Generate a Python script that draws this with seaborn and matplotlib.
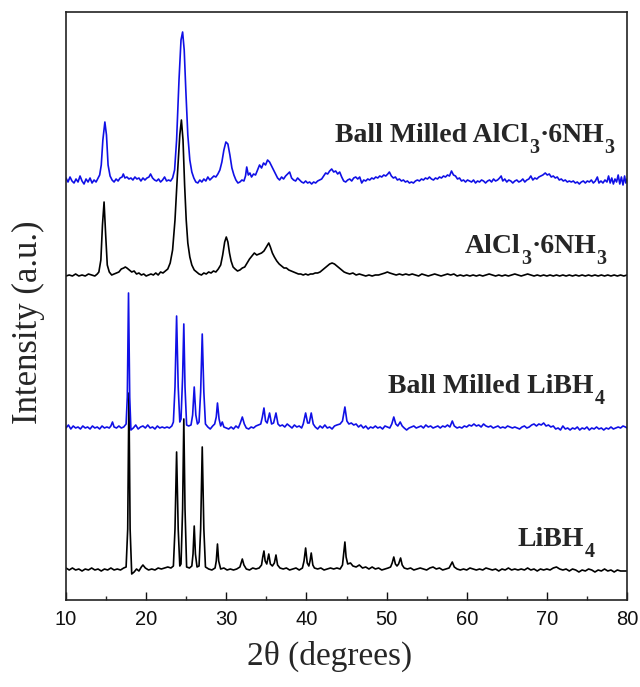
import numpy as np
import pandas as pd
import matplotlib
matplotlib.use("Agg")
import matplotlib.pyplot as plt
from matplotlib.ticker import MultipleLocator
from matplotlib.transforms import IdentityTransform
import seaborn as sns

# Diffraction patterns: (2theta in degrees, intensity above the trace's own baseline)
libh4 = [
    (10.0, 1), (10.4, -1), (10.8, 1), (11.2, -1), (11.6, 0), (12.0, -2), (12.4, 0), (12.8, -1), (13.2, 1),
    (13.6, -1), (14.0, 0), (14.4, -2), (14.8, 0), (15.2, -1), (15.6, 1), (16.0, -1), (16.4, 0), (16.8, -1),
    (17.2, 1), (17.5, 2), (17.7, 40), (17.85, 176), (18.0, 40), (18.2, -5), (18.5, -3), (18.8, 0), (19.1, -2),
    (19.4, 2), (19.6, 4), (19.9, 1), (20.3, -1), (20.7, 0), (21.1, -1), (21.5, 1), (21.9, 0), (22.3, 1),
    (22.7, 2), (23.1, 1), (23.4, 3), (23.6, 40), (23.8, 117), (24.0, 40), (24.2, 3), (24.35, 5), (24.55, 60),
    (24.7, 150), (24.85, 60), (25.05, 2), (25.4, 1), (25.7, 3), (25.85, 15), (26.0, 43), (26.15, 15),
    (26.35, 2), (26.6, 3), (26.8, 40), (27.0, 122), (27.2, 40), (27.4, 2), (27.8, 0), (28.2, -1), (28.6, 1),
    (28.75, 8), (28.9, 25), (29.05, 8), (29.3, 0), (29.7, 1), (30.1, -1), (30.5, 0), (30.9, -1), (31.3, 0),
    (31.7, 2), (31.85, 6), (32.0, 10), (32.2, 4), (32.5, 0), (32.9, -1), (33.3, 1), (33.7, 0), (34.1, 1),
    (34.4, 4), (34.55, 12), (34.7, 18), (34.85, 8), (35.05, 5), (35.3, 15), (35.5, 5), (35.75, 3), (36.0, 6),
    (36.2, 14), (36.4, 4), (36.7, 1), (37.1, 0), (37.5, 1), (37.9, -1), (38.3, 0), (38.7, 1), (39.1, -1),
    (39.5, 1), (39.7, 8), (39.9, 21), (40.1, 6), (40.3, 3), (40.45, 8), (40.6, 16), (40.8, 4), (41.0, 1),
    (41.4, 0), (41.8, 1), (42.2, -1), (42.6, 0), (43.0, 1), (43.4, 0), (43.8, 1), (44.2, 0), (44.5, 4),
    (44.65, 15), (44.8, 27), (44.95, 12), (45.15, 5), (45.5, 6), (45.8, 3), (46.2, 2), (46.6, 4), (47.0, 1),
    (47.4, 2), (47.8, 0), (48.2, 2), (48.6, 0), (49.0, 1), (49.4, -1), (49.8, 0), (50.2, 1), (50.5, 2),
    (50.7, 6), (50.9, 12), (51.1, 5), (51.3, 3), (51.5, 5), (51.75, 11), (51.95, 4), (52.2, 1), (52.6, 0),
    (53.0, 1), (53.4, -1), (53.8, 0), (54.2, 1), (54.6, 0), (55.0, -1), (55.4, 1), (55.8, 2), (56.2, 0),
    (56.6, 1), (57.0, -1), (57.4, 0), (57.8, 1), (58.0, 4), (58.2, 7), (58.45, 2), (58.8, 0), (59.2, -1),
    (59.6, 0), (60.0, -1), (60.4, 1), (60.8, 0), (61.2, -1), (61.6, 0), (62.0, -1), (62.4, 1), (62.8, 0),
    (63.2, -1), (63.6, 0), (64.0, -2), (64.4, 0), (64.8, -1), (65.2, 1), (65.6, -1), (66.0, 0), (66.4, -1),
    (66.8, 0), (67.2, -1), (67.6, 1), (68.0, -1), (68.4, 0), (68.8, -2), (69.2, 0), (69.6, -1), (70.0, 0),
    (70.4, -1), (70.8, 1), (71.2, 2), (71.6, 0), (72.0, -1), (72.4, 0), (72.8, -2), (73.2, 0), (73.6, -1),
    (74.0, -3), (74.4, -1), (74.8, -2), (75.2, 0), (75.6, -1), (76.0, -3), (76.4, -1), (76.8, -2), (77.2, 0),
    (77.6, -2), (78.0, -1), (78.4, -3), (78.8, -1), (79.2, -2), (79.6, -2), (80.0, -2),
]

bm_libh4 = [
    (10.0, -1), (10.3, 2), (10.6, -2), (10.9, 1), (11.2, -1), (11.5, 0), (11.8, -2), (12.1, 1), (12.4, -1),
    (12.7, 0), (13.0, -2), (13.3, 1), (13.6, -1), (13.9, 0), (14.2, -2), (14.5, 1), (14.8, -1), (15.1, 0),
    (15.4, -1), (15.6, 1), (15.8, 5), (16.0, 0), (16.3, -1), (16.6, 1), (16.9, -1), (17.2, 0), (17.5, 3),
    (17.65, 30), (17.8, 134), (17.95, 30), (18.1, -3), (18.4, -1), (18.7, 2), (19.0, -2), (19.3, 0), (19.6, 1),
    (19.9, -1), (20.2, 2), (20.5, -1), (20.8, 0), (21.1, -2), (21.4, 1), (21.7, -1), (22.0, 0), (22.3, -1),
    (22.6, 0), (22.9, -1), (23.2, 1), (23.4, 5), (23.6, 40), (23.8, 111), (24.0, 40), (24.2, 5), (24.35, 8),
    (24.55, 50), (24.7, 103), (24.85, 40), (25.05, 2), (25.3, 1), (25.6, 2), (25.8, 12), (26.0, 40),
    (26.2, 12), (26.4, 3), (26.6, 5), (26.8, 35), (27.0, 93), (27.2, 35), (27.4, 3), (27.7, 0), (28.0, -2),
    (28.3, 1), (28.55, 3), (28.75, 10), (28.9, 24), (29.1, 8), (29.3, 1), (29.5, 5), (29.7, 0), (30.0, -1),
    (30.3, -2), (30.6, 0), (30.9, -2), (31.2, 1), (31.5, -1), (31.75, 4), (32.0, 10), (32.25, 3), (32.5, -1),
    (32.8, -2), (33.1, 0), (33.4, -1), (33.7, 1), (34.0, 2), (34.3, 3), (34.5, 10), (34.7, 19), (34.9, 6),
    (35.1, 4), (35.4, 14), (35.65, 3), (35.9, 4), (36.2, 14), (36.45, 3), (36.7, 1), (37.0, 2), (37.3, 0),
    (37.6, 3), (37.9, 1), (38.2, -1), (38.5, 2), (38.8, 0), (39.1, 1), (39.4, -1), (39.6, 3), (39.9, 14),
    (40.15, 4), (40.35, 4), (40.6, 14), (40.85, 3), (41.1, 0), (41.4, -2), (41.7, 1), (42.0, -1), (42.3, 2),
    (42.6, -1), (42.9, 0), (43.2, -2), (43.5, 1), (43.8, 2), (44.2, 3), (44.5, 6), (44.8, 20), (45.05, 6),
    (45.3, 3), (45.6, 4), (45.9, 2), (46.2, 3), (46.5, 0), (46.8, 2), (47.1, -1), (47.4, 1), (47.7, -2),
    (48.0, 0), (48.3, -1), (48.6, 1), (48.9, -1), (49.2, 0), (49.5, -2), (49.8, 1), (50.1, 0), (50.4, -1),
    (50.65, 3), (50.9, 10), (51.15, 3), (51.4, 1), (51.7, 5), (51.95, 1), (52.2, -1), (52.5, -3), (52.8, -1),
    (53.1, 0), (53.4, 1), (53.7, -1), (54.0, 0), (54.3, 1), (54.6, -1), (54.9, 2), (55.2, 0), (55.5, 1),
    (55.8, -1), (56.1, 0), (56.4, 1), (56.7, -1), (57.0, 1), (57.3, 0), (57.6, 2), (57.9, 0), (58.2, 6),
    (58.45, 1), (58.8, -1), (59.1, 0), (59.4, -1), (59.7, 1), (60.0, 0), (60.3, 2), (60.6, 1), (60.9, 3),
    (61.2, 1), (61.5, 2), (61.8, 0), (62.1, 3), (62.4, 1), (62.7, 0), (63.0, 1), (63.3, -1), (63.6, 0),
    (63.9, 1), (64.2, -1), (64.5, 0), (64.8, -1), (65.1, 1), (65.4, 0), (65.7, -1), (66.0, 0), (66.3, -1),
    (66.6, -2), (66.9, 0), (67.2, 1), (67.5, -1), (67.8, 0), (68.1, 2), (68.4, 3), (68.7, 1), (69.0, 3),
    (69.3, 2), (69.6, 4), (69.9, 1), (70.2, 2), (70.5, 0), (70.8, 1), (71.1, -2), (71.4, -1), (71.7, -3),
    (72.0, 1), (72.3, -2), (72.6, -1), (72.9, -3), (73.2, -1), (73.5, -2), (73.8, 0), (74.1, -3), (74.4, -1),
    (74.7, -2), (75.0, 0), (75.3, -3), (75.6, -1), (75.9, -2), (76.2, 0), (76.5, -2), (76.8, -1), (77.1, -3),
    (77.4, -1), (77.7, -2), (78.0, 0), (78.3, -2), (78.6, -1), (78.9, 0), (79.2, -1), (79.5, 1), (79.8, 0),
    (80.0, -1),
]

alcl3 = [
    (10.0, -1), (10.4, 0), (10.8, -1), (11.2, 1), (11.6, -1), (12.0, 0), (12.4, -1), (12.8, 1), (13.2, 0),
    (13.6, -1), (13.9, 1), (14.1, 3), (14.35, 15), (14.55, 50), (14.75, 73), (14.95, 40), (15.15, 10),
    (15.4, 3), (15.7, 0), (16.0, 1), (16.3, 2), (16.6, 3), (16.9, 6), (17.2, 7), (17.4, 8), (17.6, 7),
    (17.9, 5), (18.2, 3), (18.5, 4), (18.8, 1), (19.1, 2), (19.4, 0), (19.7, 1), (20.0, -1), (20.3, 0),
    (20.6, 1), (20.9, 0), (21.2, 2), (21.5, 0), (21.8, 3), (22.1, 2), (22.4, 4), (22.7, 6), (23.0, 12),
    (23.3, 25), (23.6, 55), (23.9, 100), (24.2, 140), (24.4, 155), (24.6, 135), (24.8, 90), (25.0, 55),
    (25.2, 32), (25.45, 18), (25.7, 10), (26.0, 5), (26.3, 3), (26.6, 1), (26.9, 0), (27.2, 2), (27.5, 1),
    (27.8, 3), (28.1, 2), (28.4, 4), (28.7, 3), (29.0, 6), (29.3, 10), (29.55, 20), (29.8, 33), (30.0, 38),
    (30.2, 33), (30.4, 22), (30.6, 14), (30.85, 8), (31.1, 6), (31.4, 4), (31.7, 5), (32.0, 7), (32.3, 8),
    (32.6, 12), (32.9, 16), (33.2, 19), (33.5, 22), (33.8, 20), (34.1, 21), (34.4, 22), (34.7, 24),
    (35.0, 28), (35.3, 32), (35.5, 28), (35.75, 22), (36.0, 18), (36.3, 14), (36.6, 11), (36.9, 9),
    (37.2, 7), (37.5, 7), (37.8, 5), (38.1, 4), (38.4, 3), (38.7, 2), (39.0, 1), (39.3, 1), (39.6, 0),
    (39.9, 1), (40.2, 0), (40.5, 1), (40.8, 1), (41.1, 2), (41.4, 2), (41.7, 3), (42.0, 5), (42.3, 7),
    (42.6, 9), (42.9, 11), (43.2, 12), (43.5, 11), (43.8, 9), (44.1, 7), (44.4, 5), (44.7, 3), (45.0, 2),
    (45.4, 1), (45.8, 2), (46.2, 0), (46.6, 1), (47.0, 0), (47.4, -1), (47.8, 0), (48.2, -1), (48.6, 0),
    (49.0, 0), (49.4, 1), (49.8, 2), (50.1, 3), (50.4, 2), (50.8, 1), (51.2, 0), (51.6, 1), (52.0, 0),
    (52.4, 1), (52.8, 0), (53.2, 1), (53.6, 0), (54.0, -1), (54.4, 1), (54.8, 0), (55.2, -1), (55.6, 0),
    (56.0, 1), (56.4, 0), (56.8, -1), (57.2, 0), (57.6, 1), (58.0, 0), (58.4, 1), (58.8, -1), (59.2, 0),
    (59.6, -1), (60.0, 0), (60.4, -1), (60.8, 0), (61.2, -1), (61.6, 0), (62.0, -1), (62.4, 0), (62.8, 1),
    (63.2, 0), (63.6, -1), (64.0, 0), (64.4, -1), (64.8, 0), (65.2, -1), (65.6, 0), (66.0, 1), (66.4, 0),
    (66.8, -1), (67.2, 0), (67.6, 1), (68.0, 0), (68.4, -1), (68.8, 0), (69.2, -1), (69.6, 0), (70.0, -1),
    (70.4, 0), (70.8, -1), (71.2, 0), (71.6, -1), (72.0, 0), (72.4, -1), (72.8, 0), (73.2, -1), (73.6, 0),
    (74.0, -1), (74.4, 0), (74.8, -1), (75.2, 0), (75.6, -1), (76.0, 0), (76.4, -1), (76.8, 0), (77.2, -1),
    (77.6, 0), (78.0, -1), (78.4, 0), (78.8, -1), (79.2, 0), (79.6, -1), (80.0, 0),
]

bm_alcl3 = [
    (10.0, 2), (10.25, -2), (10.5, 3), (10.75, -1), (11.0, -3), (11.25, 1), (11.5, -2), (11.75, 4),
    (12.0, -1), (12.25, -4), (12.5, 1), (12.75, -2), (13.0, 2), (13.25, -3), (13.5, 0), (13.75, -2),
    (14.0, 2), (14.2, 5), (14.4, 15), (14.6, 40), (14.85, 58), (15.05, 45), (15.25, 15), (15.5, 4),
    (15.75, 0), (16.0, -2), (16.25, 1), (16.5, -1), (16.75, 2), (17.0, 3), (17.15, 6), (17.35, 2),
    (17.6, 3), (17.85, 1), (18.1, 2), (18.35, 0), (18.6, 3), (18.85, 1), (19.1, 2), (19.35, -1), (19.6, 2),
    (19.85, 0), (20.1, 2), (20.35, 3), (20.55, 6), (20.8, 2), (21.05, 0), (21.3, -1), (21.55, 1),
    (21.8, -2), (22.05, 0), (22.3, 3), (22.55, -1), (22.8, 0), (23.05, -1), (23.3, 2), (23.55, 10),
    (23.8, 40), (24.1, 100), (24.35, 140), (24.55, 148), (24.75, 130), (24.95, 90), (25.2, 45), (25.45, 20),
    (25.7, 8), (25.95, 2), (26.2, -2), (26.45, -3), (26.7, 0), (26.95, -2), (27.2, 1), (27.45, -1),
    (27.7, 3), (27.95, 0), (28.2, 2), (28.45, 4), (28.7, 3), (28.95, 6), (29.2, 10), (29.45, 18),
    (29.7, 30), (29.95, 38), (30.2, 36), (30.45, 25), (30.7, 12), (30.95, 5), (31.2, 0), (31.45, -3),
    (31.7, -2), (31.95, 0), (32.2, -1), (32.4, 4), (32.55, 13), (32.75, 5), (32.95, 7), (33.15, 3),
    (33.4, 6), (33.65, 5), (33.9, 10), (34.15, 15), (34.4, 12), (34.65, 17), (34.9, 15), (35.15, 20),
    (35.4, 18), (35.65, 14), (35.9, 10), (36.15, 6), (36.4, 2), (36.65, 0), (36.9, 3), (37.15, 1),
    (37.4, 4), (37.65, 6), (37.9, 8), (38.15, 2), (38.4, 0), (38.65, -1), (38.9, 2), (39.15, 0),
    (39.4, -2), (39.65, -3), (39.9, -1), (40.15, -3), (40.4, -2), (40.65, -4), (40.9, -2), (41.15, -3),
    (41.4, -1), (41.65, 0), (41.9, 1), (42.15, 4), (42.4, 7), (42.65, 6), (42.9, 9), (43.15, 11),
    (43.4, 8), (43.65, 9), (43.9, 6), (44.15, 8), (44.4, 3), (44.65, -1), (44.9, -2), (45.15, 0),
    (45.4, 1), (45.65, -1), (45.9, 2), (46.15, 3), (46.4, 1), (46.65, 3), (46.9, -3), (47.15, 0),
    (47.4, -1), (47.65, 1), (47.9, 0), (48.15, 2), (48.4, 1), (48.65, 3), (48.9, 2), (49.15, 4),
    (49.4, 3), (49.65, 5), (49.9, 4), (50.15, 6), (50.35, 8), (50.6, 4), (50.85, 2), (51.1, 3),
    (51.35, 0), (51.6, 1), (51.85, -1), (52.1, 0), (52.35, -2), (52.6, -1), (52.85, -3), (53.1, -2),
    (53.35, -3), (53.6, -1), (53.85, 0), (54.1, -1), (54.35, 1), (54.6, 0), (54.85, 2), (55.1, 1),
    (55.35, 3), (55.6, 1), (55.85, 0), (56.1, 2), (56.35, 1), (56.6, 3), (56.85, 2), (57.1, 4),
    (57.35, 3), (57.6, 5), (57.85, 4), (58.1, 9), (58.35, 5), (58.6, 4), (58.85, 1), (59.1, 2),
    (59.35, -1), (59.6, 0), (59.85, -2), (60.1, 0), (60.35, -1), (60.6, -2), (60.85, 0), (61.1, -3),
    (61.35, -1), (61.6, -2), (61.85, 0), (62.1, -1), (62.35, -3), (62.6, -1), (62.85, 0), (63.1, -2),
    (63.35, 1), (63.6, -1), (63.85, 0), (64.1, 2), (64.3, 4), (64.5, -1), (64.75, 1), (65.0, -2),
    (65.25, 0), (65.5, -1), (65.75, -3), (66.0, -1), (66.25, 0), (66.5, -2), (66.75, -1), (67.0, 1),
    (67.25, -2), (67.5, 0), (67.75, 1), (68.0, 4), (68.25, 0), (68.5, 2), (68.75, 1), (69.0, 3),
    (69.25, 4), (69.5, 5), (69.8, 7), (70.05, 5), (70.3, 6), (70.55, 3), (70.8, 4), (71.05, 2),
    (71.3, 3), (71.55, 0), (71.8, 1), (72.05, -1), (72.3, 0), (72.55, -2), (72.8, -1), (73.05, -2),
    (73.3, -1), (73.55, -3), (73.8, -2), (74.05, -4), (74.3, -2), (74.55, -1), (74.8, -3), (75.05, -1),
    (75.3, -2), (75.55, 0), (75.8, -3), (76.05, -1), (76.3, 3), (76.5, -3), (76.75, -1), (77.0, -3),
    (77.25, 0), (77.5, -2), (77.7, 4), (77.9, -3), (78.1, 2), (78.3, -4), (78.5, 1), (78.7, -2),
    (78.9, 5), (79.1, -4), (79.3, 3), (79.5, -5), (79.7, 4), (79.85, -3), (80.0, 1),
]

# Vertical stacking offsets (a.u.) and colours, bottom to top
samples = ["LiBH4", "Ball Milled LiBH4", "AlCl3·6NH3", "Ball Milled AlCl3·6NH3"]
patterns = [libh4, bm_libh4, alcl3, bm_alcl3]
offsets = [31, 173, 325, 420]
colors = ["#000000", "#1010e6", "#000000", "#1010e6"]
# Labels as (text, is_subscript) runs
label_runs = [
    [("LiBH", False), ("4", True)],
    [("Ball Milled LiBH", False), ("4", True)],
    [("AlCl", False), ("3", True), ("·6NH", False), ("3", True)],
    [("Ball Milled AlCl", False), ("3", True), ("·6NH", False), ("3", True)],
]

x_ticks = [10, 20, 30, 40, 50, 60, 70, 80]

frames = []
for name, pat, off in zip(samples, patterns, offsets):
    arr = np.array(pat, dtype=float)
    frames.append(pd.DataFrame({"two_theta": arr[:, 0], "intensity": arr[:, 1] + off, "sample": name}))
df = pd.concat(frames, ignore_index=True)

sns.set_style("ticks")

W, H = 640, 687
fig = plt.figure(figsize=(W / 100, H / 100), dpi=100)
ax = fig.add_axes([66 / W, 87 / H, 561 / W, 588 / H])

sns.lineplot(data=df, x="two_theta", y="intensity", hue="sample", hue_order=samples,
             palette=colors, estimator=None, sort=False, linewidth=1.2, legend=False, ax=ax)

ax.set_xlim(10, 80)
ax.set_ylim(0, 588)
ax.set_xticks(x_ticks)
ax.xaxis.set_minor_locator(MultipleLocator(5))
ax.set_yticks([])
ax.set_xlabel("")
ax.set_ylabel("")
ax.tick_params(axis="x", which="major", direction="in", length=6, width=1.0, labelsize=14.5, pad=7,
               colors="#111111")
ax.tick_params(axis="x", which="minor", direction="in", length=3, width=1.0)
for lab in ax.get_xticklabels():
    lab.set_fontfamily("Liberation Sans")
for sp in ax.spines.values():
    sp.set_linewidth(1.2)
    sp.set_color("#222222")

fig.text(330 / W, 1 - 656 / H, "2θ (degrees)", ha="center", va="center",
         fontsize=24, family="Liberation Serif")
fig.text(28 / W, 1 - 322 / H, "Intensity (a.u.)", ha="center", va="center", rotation=90,
         fontsize=25, family="Liberation Serif")


def place_label(runs, right_px, base_py, size=20, sub_scale=0.72, sub_drop=11):
    """Write a chemical label in pixel units, right-aligned, with dropped subscripts."""
    renderer = fig.canvas.get_renderer()
    x = 0.0
    y = H - base_py
    items = []
    for txt, is_sub in runs:
        t = fig.text(x, y - (sub_drop if is_sub else 0), txt, transform=IdentityTransform(),
                     ha="left", va="baseline", fontsize=size * (sub_scale if is_sub else 1.0),
                     fontweight="bold", family="Liberation Serif")
        bb = t.get_window_extent(renderer)
        items.append(t)
        x = bb.x1 + 0.5
    shift = right_px - x
    for t in items:
        px, py = t.get_position()
        t.set_position((px + shift, py))


label_pos = [(595, 546), (605, 393), (607, 253), (615, 142)]
for runs, (px, py) in zip(label_runs, label_pos):
    place_label(runs, px, py)

fig.savefig("out.png", dpi=100)
